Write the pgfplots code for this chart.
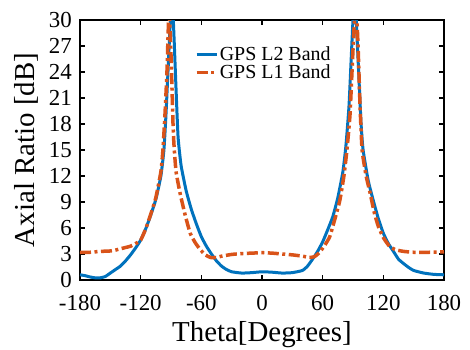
\documentclass[border=0pt]{standalone}
\usepackage{fontspec}
\setmainfont{Liberation Serif}
\usepackage{pgfplots}
\pgfplotsset{compat=1.18}
\definecolor{mblue}{RGB}{0,114,189}
\definecolor{morange}{RGB}{217,83,25}
\begin{document}
\begin{tikzpicture}
\path[use as bounding box] (-80bp,-70bp) rectangle (390bp,280bp);
\begin{axis}[
  at={(0,0)}, anchor=south west,
  scale only axis, width=364bp, height=260bp,
  xmin=-180, xmax=180, ymin=0, ymax=30,
  xtick={-180,-120,-60,0,60,120,180},
  xticklabels={-180,-120,-60,0,60,120,180},
  ytick={0,3,6,9,12,15,18,21,24,27,30},
  yticklabels={0,3,6,9,12,15,18,21,24,27,30},
  tick align=inside,
  major tick length=5bp,
  every tick/.style={black, line width=1.5bp},
  axis line style={line width=2.5bp},
  ticklabel style={font=\fontsize{23}{23}\selectfont},
  xticklabel style={anchor=base, yshift=-30bp},
  yticklabel style={anchor=east, inner sep=0pt, xshift=-8bp},
  xlabel={Theta[Degrees]},
  ylabel={Axial Ratio [dB]},
  label style={font=\fontsize{29}{29}\selectfont},
  xlabel style={at={(axis description cs:0.5,-0.238)}, anchor=base},
  ylabel style={at={(axis description cs:-0.124,0.5)}, anchor=base, rotate=0},
  legend cell align=left,
  legend style={draw=none, fill=none, font=\fontsize{20}{20}\selectfont,
    at={(axis description cs:0.315,0.905)}, anchor=north west, inner sep=0pt,
    row sep=0pt, nodes={inner sep=1.5bp}},
  legend image code/.code={\draw[#1] (0bp,0bp) -- (20bp,0bp);},
]
\addplot[mblue, line width=3bp, smooth, tension=0.3] coordinates {
(-180,0.6) (-175,0.5) (-170,0.35) (-165,0.25) (-160,0.25) (-155,0.4) (-150,0.8)
(-145,1.2) (-140,1.6) (-135,2.2) (-130,2.9) (-125,3.7) (-120,4.6) (-115,5.9)
(-110,7.5) (-105,9.3) (-100,12.0) (-97,15) (-95,19) (-93,24) (-91,29) (-89,33)
(-87,28) (-85,22) (-83,16.5) (-80,13.2) (-75,10.3) (-70,8.2) (-65,6.5) (-60,5.0)
(-55,3.9) (-50,3.0) (-45,2.2) (-40,1.6) (-35,1.2) (-30,0.95) (-20,0.8) (-10,0.85)
(0,0.95) (10,0.9) (20,0.8) (30,0.85) (40,1.1) (45,1.6) (50,2.4) (55,3.3) (60,4.4)
(65,5.8) (70,7.3) (75,9.5) (80,12.5) (83,15.5) (86,20) (88,25) (90,30) (92,33)
(94,28) (96,23) (98,18) (100,15) (105,11.5) (110,9.2) (115,7.1) (120,5.4)
(125,4.2) (130,3.3) (135,2.4) (140,1.9) (145,1.45) (150,1.1) (160,0.8) (170,0.65)
(180,0.6)
};
\addlegendentry{GPS L2 Band}
\addplot[morange, line width=3.5bp, dash pattern=on 11bp off 3.5bp on 3bp off 3.5bp, smooth, tension=0.3] coordinates {
(-180,3.2) (-170,3.2) (-160,3.3) (-150,3.35) (-145,3.45) (-140,3.6) (-135,3.75)
(-130,3.9) (-125,4.2) (-120,4.6) (-115,5.9) (-110,7.6) (-105,9.5) (-100,12.5)
(-98,15) (-96,19) (-94,24) (-92,31) (-90,26) (-88,18) (-87,15.5) (-85,12.5)
(-81,10) (-76,7.5) (-71,5.4) (-66,4.3) (-61,3.5) (-56,2.9) (-51,2.6) (-45,2.6)
(-40,2.75) (-30,2.95) (-20,3.05) (-10,3.1) (0,3.15) (10,3.1) (20,3.0) (30,2.9)
(40,2.75) (47,2.6) (52,2.7) (57,3.2) (62,4.0) (67,5.0) (72,7.0) (77,9.2) (81,12)
(84,15) (87,19) (89,24) (91,29) (93,32) (95,27) (97,20) (99,15) (103,12) (107,10)
(111,7.8) (115,6.2) (120,4.9) (126,3.9) (132,3.5) (140,3.3) (150,3.2) (165,3.2)
(180,3.25)
};
\addlegendentry{GPS L1 Band}
\end{axis}
\end{tikzpicture}
\end{document}
